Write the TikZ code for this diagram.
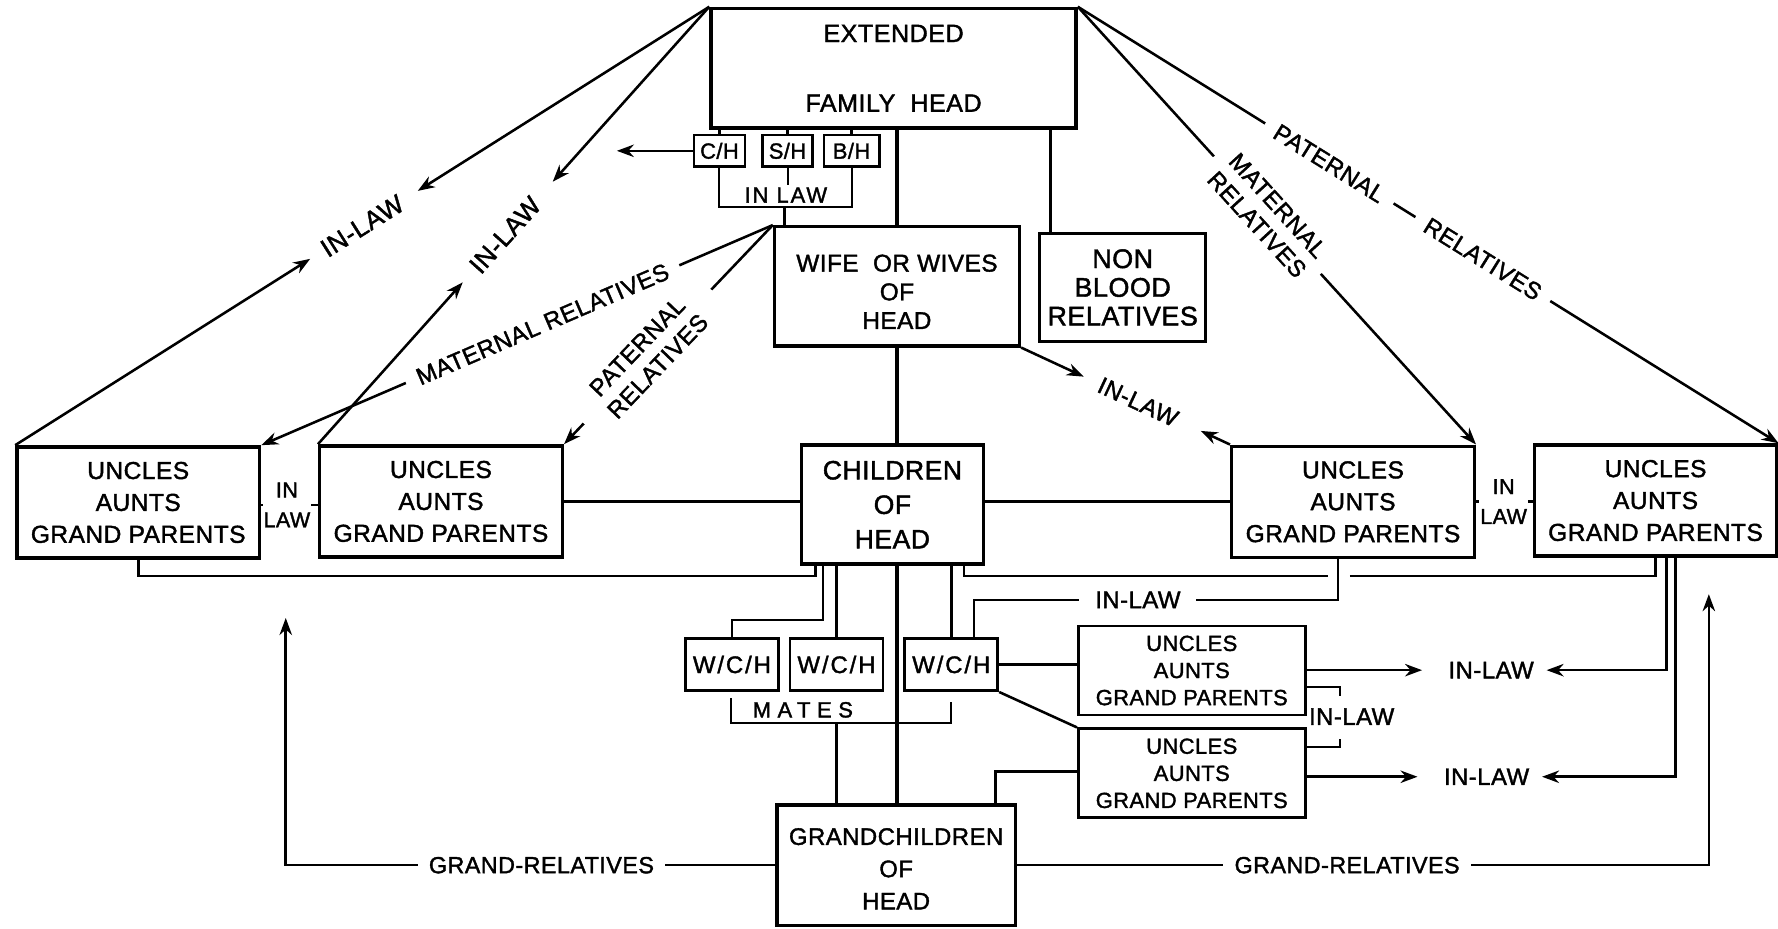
\documentclass[tikz,border=0pt]{standalone}
\usepackage{fontspec}
\setmainfont{Liberation Sans}[LetterSpace=2, UprightFeatures={FakeBold=1.6}]
\usetikzlibrary{arrows.meta,calc}
\begin{document}
\begin{tikzpicture}[x=0.2mm, y=-0.2mm,
    box/.style={draw, line width=0.6mm, align=center, inner sep=0pt},
    sbox/.style={draw, line width=0.45mm, inner sep=0pt, minimum height=5.6mm, font=\fontsize{11}{13}\selectfont},
    uag/.style={box, minimum width=42.8mm, minimum height=19.6mm, font=\fontsize{12.3}{16}\selectfont},
    suag/.style={box, line width=0.5mm, minimum width=40mm, minimum height=15.7mm, font=\fontsize{11}{13.6}\selectfont},
    wch/.style={box, line width=0.5mm, minimum width=16.4mm, minimum height=9.2mm, font={\fontsize{12}{14}\selectfont\addfontfeatures{LetterSpace=8}}},
    link/.style={line width=0.45mm},
    thin link/.style={line width=0.35mm},
    spine/.style={line width=0.8mm},
    arr/.style={link, -{Stealth[length=3mm,width=2.2mm]}},
    lbl/.style={font=\fontsize{12}{14.2}\selectfont, align=center, inner sep=1pt},
    gaplbl/.style={lbl, fill=white, inner xsep=2.2mm},
    stack/.style={lbl, font=\fontsize{10.8}{15}\selectfont, inner sep=0.3pt}]

  \useasboundingbox (0,0) rectangle (1568,819);

  \node[box, minimum width=64.4mm, minimum height=21.1mm, font=\fontsize{12.6}{15}\selectfont] (ext) at (788,60.2) {EXTENDED\\[20pt]FAMILY~~HEAD};
  \node[sbox, minimum width=9mm] (ch) at (634.5,133) {C/H};
  \node[sbox, minimum width=8.8mm] (sh) at (694.5,133) {S/H};
  \node[sbox, minimum width=9.8mm] (bh) at (751,133) {B/H};
  \node[lbl, font={\fontsize{11}{13}\selectfont\addfontfeatures{LetterSpace=9}}] (inlawtop) at (693,172) {IN LAW};
  \node[box, minimum width=43.2mm, minimum height=21mm, font=\fontsize{12.2}{14.4}\selectfont] (wife) at (791,252.5) {\rule{0pt}{14pt}WIFE~~OR WIVES\\OF\\HEAD};
  \node[box, minimum width=29.3mm, minimum height=19.1mm, font=\fontsize{13.5}{14.4}\selectfont] (nonblood) at (990.1,253.5) {NON\\BLOOD\\RELATIVES};
  \node[uag] (ulo) at (121.9,443.1) {UNCLES\\AUNTS\\GRAND PARENTS};
  \node[uag] (uli) at (388.9,442.2) {UNCLES\\AUNTS\\GRAND PARENTS};
  \node[box, minimum width=32.1mm, minimum height=21mm, font=\fontsize{13.3}{17.3}\selectfont] (child) at (787,445) {CHILDREN\\OF\\HEAD};
  \node[uag] (uri) at (1193.2,442.5) {UNCLES\\AUNTS\\GRAND PARENTS};
  \node[uag] (uro) at (1460,441.4) {UNCLES\\AUNTS\\GRAND PARENTS};
  \node[stack] (inlawl) at (253,445.3) {IN\\LAW};
  \node[stack] (inlawr) at (1326,442.3) {IN\\LAW};
  \node[wch] (wch1) at (645.5,586) {W/C/H};
  \node[wch] (wch2) at (737.7,586) {W/C/H};
  \node[wch] (wch3) at (838.9,586) {W/C/H};
  \node[suag] (ua3) at (1051,591.3) {UNCLES\\AUNTS\\GRAND PARENTS};
  \node[suag] (ua4) at (1051,682) {UNCLES\\AUNTS\\GRAND PARENTS};
  \node[box, minimum width=42.1mm, minimum height=21.2mm, font=\fontsize{12}{16.2}\selectfont] (grand) at (790.3,763) {\rule{0pt}{12pt}GRANDCHILDREN\\OF\\HEAD};
  \node[lbl, inner sep=0pt] (inlaw4) at (1315,591) {IN-LAW};
  \node[lbl, inner sep=0pt] (inlaw5) at (1311,685) {IN-LAW};
  \node[lbl] (inlaw6) at (1192,632) {IN-LAW};
  \node[lbl, font={\fontsize{11}{13}\selectfont\addfontfeatures{LetterSpace=30}}] (mates) at (708,626) {MATES};

  \draw[link] (ch.north) -- (ch.north |- ext.south);
  \draw[link] (sh.north) -- (sh.north |- ext.south);
  \draw[link] (bh.north) -- (bh.north |- ext.south);
  \coordinate (chtip) at (544,133);
  \draw[arr] (ch.west) -- (chtip);
  \coordinate (brk) at (692,182.3);
  \draw[thin link] (ch.south) |- (brk) -| (bh.south);
  \draw[thin link] (sh.south) -- (sh.south |- inlawtop.north);
  \draw[link] (brk) -- (brk |- wife.north);
  \draw[spine] (wife.north |- ext.south) -- (wife.north);
  \draw[spine] (wife.south) -- (wife.south |- child.north);
  \draw[spine] (wife.south |- child.south) -- (wife.south |- grand.north);
  \coordinate (nb) at ([xshift=2.2mm]nonblood.north west);
  \draw[link] (nb |- ext.south) -- (nb);

  \draw[arr] (wife.north west) -- node[gaplbl, sloped, pos=0.6, inner xsep=4.5mm] (patl) {PATERNAL\\RELATIVES} (uli.north east);
  \draw[arr] (wife.north west) -- node[gaplbl, sloped, pos=0.45] (matl) {MATERNAL RELATIVES} (ulo.north east);
  \draw[arr] (ext.north east) -- node[gaplbl, sloped, pos=0.476] (matr) {MATERNAL\\RELATIVES} (uri.north east);
  \draw[arr] (ext.north east) -- node[gaplbl, sloped, pos=0.359] (patr) {PATERNAL} node[gaplbl, sloped, pos=0.578] (relr) {RELATIVES} (uro.north east);

  \draw[arr] (ext.north west) -- ($(ext.north west)!0.42!(ulo.north west)$);
  \draw[arr] (ulo.north west) -- ($(ulo.north west)!0.425!(ext.north west)$);
  \path (ulo.north west) -- node[lbl, sloped, font=\fontsize{13}{15}\selectfont] (inlaw1) {IN-LAW} (ext.north west);
  \draw[arr] (ext.north west) -- ($(ext.north west)!0.4!(uli.north west)$);
  \draw[arr] (uli.north west) -- ($(uli.north west)!0.37!(ext.north west)$);
  \path (uli.north west) -- node[lbl, sloped, pos=0.478, font=\fontsize{13}{15}\selectfont] (inlaw2) {IN-LAW} (ext.north west);
  \draw[arr] (wife.south east) -- ($(wife.south east)!0.3!(uri.north west)$);
  \draw[arr] (uri.north west) -- ($(uri.north west)!0.14!(wife.south east)$);
  \path (wife.south east) -- node[lbl, sloped, pos=0.56] (inlaw3) {IN-LAW} (uri.north west);

  \draw[link] (ulo.east |- inlawl) -- (inlawl.west);
  \draw[link] (inlawl.east) -- (uli.west |- inlawl);
  \draw[link] (uri.east |- inlawr) -- (inlawr.west);
  \draw[link] (inlawr.east) -- (uro.west |- inlawr);
  \draw[link] (uli.east) -- (uli.east -| child.west);
  \draw[link] (child.east |- uri.west) -- (uri.west);

  \coordinate (busl) at (719.3,508);
  \draw[link] (ulo.south) |- (busl) -- (busl |- child.south);
  \coordinate (kw1) at (725.6,546.7);
  \draw[link] (wch1.north) |- (kw1) -- (kw1 |- child.south);
  \draw[link] (wch2.north) -- (wch2.north |- child.south);
  \draw[link] (wch3.north) -- (wch3.north |- child.south);
  \coordinate (busr) at (850,508);
  \coordinate (hopa) at (1171.4,508);
  \coordinate (hopb) at (1190.5,508);
  \draw[link] (busr |- child.south) -- (busr) -- (hopa);
  \draw[link] (hopb) -| (uro.south);
  \coordinate (inr) at (1180,529);
  \coordinate (kw3) at ([xshift=4mm]wch3.north);
  \draw[link] (inr |- uri.south) -- (inr) -| (kw3);
  \node[gaplbl, inner xsep=2.8mm] (inlawm) at (1003.5,529) {IN-LAW};

  \draw[link] (wch3.east) -- (wch3.east -| ua3.west);
  \draw[link] (wch3.south east) -- (ua4.north west);
  \coordinate (kg) at (878,680.5);
  \draw[link] (ua4.west |- kg) -- (kg) -- (kg |- grand.north);

  \draw[arr] (ua3.east |- inlaw4) -- ([xshift=-4.6mm]inlaw4.west);
  \draw[arr] ([xshift=1.9mm]uro.south) |- ([xshift=2.2mm]inlaw4.east);
  \draw[arr] (ua4.east |- inlaw5) -- ([xshift=-4.6mm]inlaw5.west);
  \draw[arr] ([xshift=3.5mm]uro.south) |- ([xshift=2.2mm]inlaw5.east);

  \coordinate (ib1) at (1182,605.5);
  \coordinate (ib1e) at (1182,614);
  \coordinate (ib2) at (1182,658.4);
  \coordinate (ib2e) at (1182,651.7);
  \draw[thin link] (ua3.east |- ib1) -- (ib1) -- (ib1e);
  \draw[thin link] (ua4.east |- ib2) -- (ib2) -- (ib2e);

  \coordinate (ma) at (644.5,637.9);
  \coordinate (mat) at (644.5,615.8);
  \coordinate (mb) at (838.9,637.9);
  \coordinate (mbt) at (838.9,618.8);
  \coordinate (mc) at (737.6,637.9);
  \draw[thin link] (mat) -- (ma) -- (mb) -- (mbt);
  \draw[link] (mc) -- (mc |- grand.north);

  \coordinate (gtl) at (252,545);
  \coordinate (gtr) at (1507,524);
  \draw[arr] (grand.west) -| (gtl);
  \draw[arr] (grand.east) -| (gtr);
  \node[gaplbl, inner xsep=2mm, font=\fontsize{11.7}{14}\selectfont] (grl) at (477.5,763) {GRAND-RELATIVES};
  \node[gaplbl, inner xsep=2mm, font=\fontsize{11.7}{14}\selectfont] (grr) at (1188,763) {GRAND-RELATIVES};
\end{tikzpicture}
\end{document}
